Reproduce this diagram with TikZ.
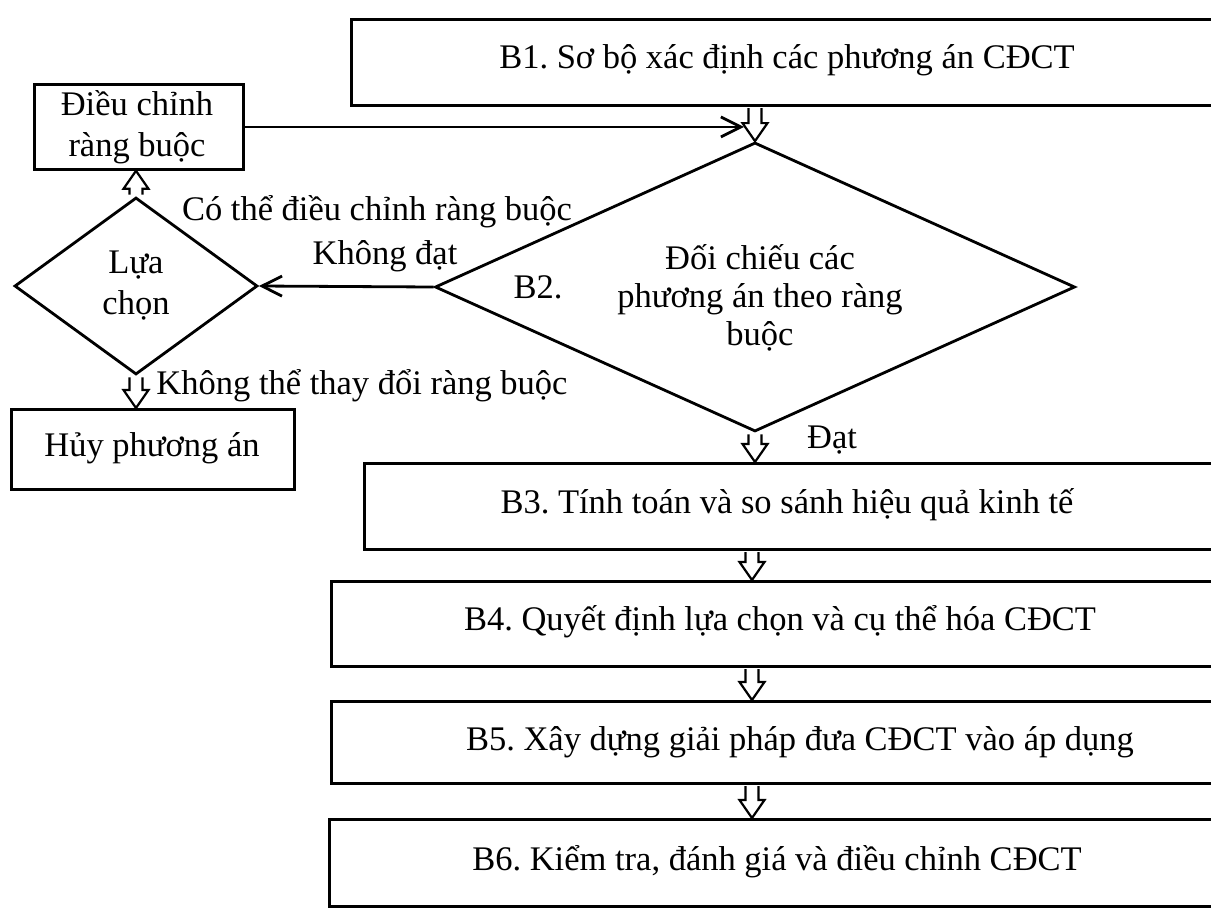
\documentclass[tikz,border=0pt]{standalone}
\usepackage{fontspec}
\setmainfont{Liberation Serif}
\usetikzlibrary{shapes.geometric,arrows.meta,calc}
\frenchspacing

\tikzset{
  stepbox/.style={draw, line width=2.8pt, rectangle, inner sep=0pt, anchor=north west},
  decision/.style={draw, line width=2.8pt, diamond, inner sep=0pt},
  txt/.style={inner sep=0pt, align=center, font=\fontsize{34.5}{38}\selectfont},
  txtwide/.style={inner sep=0pt, align=center, font=\fontsize{34.5}{41}\selectfont},
  barb/.style={line width=2.8pt, -{Straight Barb[length=20pt,width=20pt,line width=2.8pt]}},
  hollow/.style={draw, line width=2.2pt, fill=white, line join=miter},
}

\newcommand\hollowdown[2]{%
  \draw[hollow] let \p1=(#1), \p2=(#2) in
    (\x1-6.5pt,\y1-1.4pt) -- (\x1-6.5pt,\y2+18pt) -- (\x1-12.5pt,\y2+18pt) -- (\x1,\y2)
    -- (\x1+12.5pt,\y2+18pt) -- (\x1+6.5pt,\y2+18pt) -- (\x1+6.5pt,\y1-1.4pt);}
\newcommand\hollowup[2]{%
  \draw[hollow] let \p1=(#1), \p2=(#2) in
    (\x1-6.5pt,\y1+1.4pt) -- (\x1-6.5pt,\y2-18pt) -- (\x1-12.5pt,\y2-18pt) -- (\x1,\y2)
    -- (\x1+12.5pt,\y2-18pt) -- (\x1+6.5pt,\y2-18pt) -- (\x1+6.5pt,\y1+1.4pt);}

\begin{document}
\begin{tikzpicture}[x=1pt,y=-1pt]
\useasboundingbox (0,0) rectangle (1211,911);
\clip (0,0) rectangle (1211,911);

% main boxes
\node[stepbox, minimum width=890pt, minimum height=86pt] (b1) at (350,18) {};
\node[txt] (b1t) at (787,60) {B1. Sơ bộ xác định các phương án CĐCT};

\node[decision, minimum width=640pt, minimum height=289pt] (b2) at (755,287) {};
\node[txt] (b2t) at (760,298) {Đối chiếu các\\phương án theo ràng\\buộc};

\node[stepbox, minimum width=880pt, minimum height=86pt] (b3) at (363,462) {};
\node[txt] (b3t) at (787,505) {B3. Tính toán và so sánh hiệu quả kinh tế};

\node[stepbox, minimum width=910pt, minimum height=85pt] (b4) at (330,580) {};
\node[txt] (b4t) at (780,622) {B4. Quyết định lựa chọn và cụ thể hóa CĐCT};

\node[stepbox, minimum width=910pt, minimum height=82pt] (b5) at (330,700) {};
\node[txt] (b5t) at (800,742) {B5. Xây dựng giải pháp đưa CĐCT vào áp dụng};

\node[stepbox, minimum width=910pt, minimum height=87pt] (b6) at (328,818) {};
\node[txt] (b6t) at (777,862) {B6. Kiểm tra, đánh giá và điều chỉnh CĐCT};

% left side
\node[stepbox, minimum width=209pt, minimum height=85pt] (dc) at (33,83) {};
\node[txtwide] (dct) at (137,127) {Điều chỉnh\\ràng buộc};

\node[decision, minimum width=243pt, minimum height=177pt, txtwide] (lc) at (136,286) {Lựa\\chọn};

\node[stepbox, minimum width=283pt, minimum height=80pt] (huy) at (10,408) {};
\node[txt] (huyt) at (152,448) {Hủy phương án};

% labels
\node[txt] (l1) at (377,212) {Có thể điều chỉnh ràng buộc};
\node[txt] (l2) at (385,256) {Không đạt};
\node[txt] (l3) at (538,287) {B2.};
\node[txt] (l4) at (362,386) {Không thể thay đổi ràng buộc};
\node[txt] (l5) at (832,440) {Đạt};

% connectors
\coordinate (ax) at (752,0);
\coordinate (join) at (744,126);
\hollowdown{b2.north |- b1.south}{b2.north}
\hollowdown{b2.south}{b2.south |- b3.north}
\hollowdown{ax |- b3.south}{ax |- b4.north}
\hollowdown{ax |- b4.south}{ax |- b5.north}
\hollowdown{ax |- b5.south}{ax |- b6.north}
\hollowup{lc.north}{lc.north |- dc.south}
\hollowdown{lc.south}{lc.south |- huy.north}

\draw[barb] (dc.east) -- (dc.east -| join);
\draw[barb] (b2.west) -- (lc.east);
\end{tikzpicture}
\end{document}
